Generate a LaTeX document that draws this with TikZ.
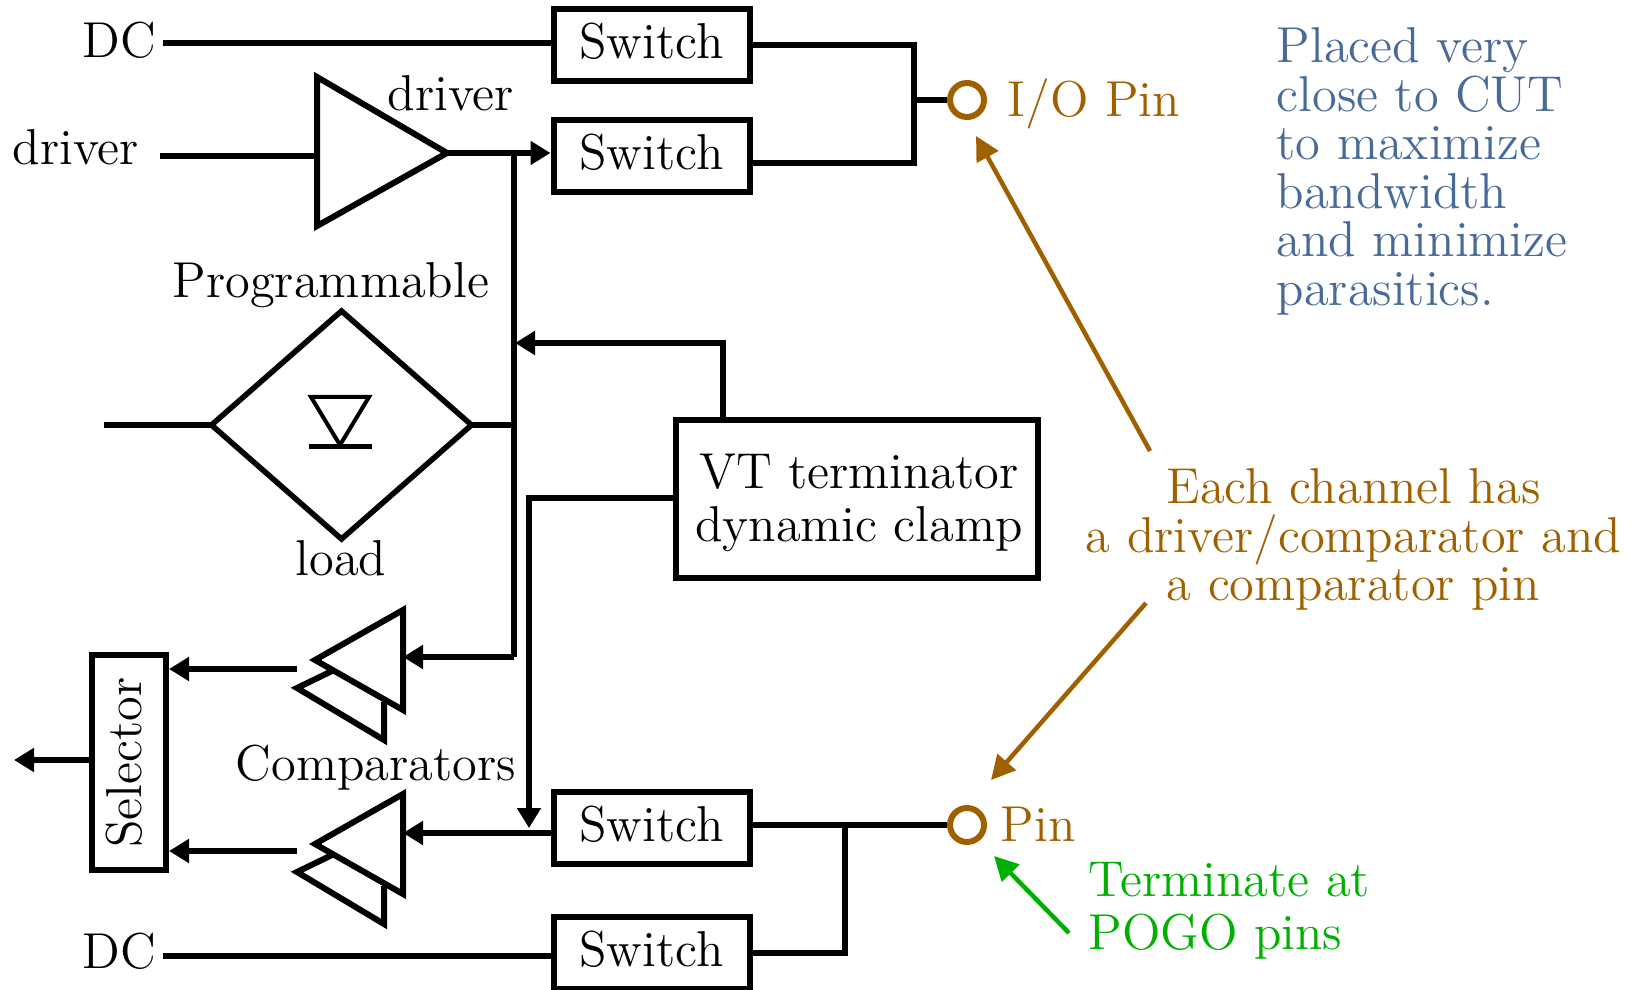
\documentclass[tikz,border=0pt]{standalone}
\usetikzlibrary{arrows.meta,shapes.geometric}
\definecolor{pinbrown}{RGB}{160,96,0}
\definecolor{noteblue}{RGB}{72,106,152}
\definecolor{podgreen}{RGB}{0,176,0}
\newcommand{\labelfont}{\fontsize{14.35}{13.8}\selectfont}
\tikzset{
  every node/.style={font=\labelfont},
  wire/.style={line width=0.6mm},
  head/.style={-{Triangle[length=2mm,width=2.3mm]}},
  bighead/.style={-{Triangle[length=2.4mm,width=2.4mm]}},
  switchbox/.style={draw,line width=0.6mm,minimum width=19.6mm,minimum height=7.2mm,inner sep=0pt,text height=3.3mm,text depth=0.6mm},
  pinring/.style={circle,draw=pinbrown,line width=0.6mm,minimum size=3.4mm,inner sep=0pt},
  txt/.style={inner sep=0pt,anchor=base west},
}
\begin{document}
\begin{tikzpicture}[x=0.1mm,y=-0.1mm]
  \useasboundingbox (0,0) rectangle (1633,990);
  % switches
  \node[switchbox] (swdc) at (651.5,45) {Switch};
  \node[switchbox] (swdrv) at (651.5,156) {Switch};
  \node[switchbox] (swcmp) at (651.5,827.5) {Switch};
  \node[switchbox] (swlow) at (651.5,953) {Switch};
  \node[pinring] (iopin) at (967,100) {};
  \node[pinring] (pin) at (967,825) {};
  % driver
  \draw[wire] (317,77) coordinate (drvtop) -- (447,153) coordinate (drvtip) -- (317,226) -- cycle;
  \node[txt] (drvtext) at (12,165) {driver};
  \node[txt] (drvname) at (387,111) {driver};
  \node[txt] (dctop) at (82,58) {DC};
  \node[txt] (dclow) at (82,968) {DC};
  \coordinate (dctopin) at (163,43);
  \coordinate (dclowin) at (163,956);
  \coordinate (drvin) at (160,156);
  \draw[wire] (dctopin) -- (dctopin -| swdc.west);
  \draw[wire] (dclowin) -- (dclowin -| swlow.west);
  \draw[wire] (drvin) -- (drvin -| drvtop);
  \draw[wire,head] (drvtip) -- (drvtip -| swdrv.west);
  % right side joins
  \coordinate (joinio) at (914,100);
  \coordinate (joinpin) at (845,825);
  \draw[wire] (swdc.east) -| (joinio) |- (swdrv.east |- 0,163);
  \draw[wire] (joinio) -- (iopin.west);
  \draw[wire] (swcmp.east |- pin) -- (pin.west);
  \draw[wire] (joinpin) |- (swlow.east);
  % load
  \node[diamond,draw,line width=0.55mm,outer sep=0pt,shape aspect=1.15,minimum width=26mm,minimum height=22.8mm,inner sep=0pt] (load) at (341.5,425) {};
  \coordinate (loadin) at (104,425);
  \draw[wire] (loadin) -- (load.west);
  \draw[line width=0.4mm] (311,397) coordinate (diodel) -- (369,397) -- (340,445) -- cycle;
  \draw[line width=0.5mm] (309,447) coordinate (diodebar) -- (372,447);
  \node[txt] (progtext) at (172,298) {Programmable};
  \node[txt] (loadtext) at (295,575) {load};
  % bus
  \coordinate (bustop) at (514,153);
  \coordinate (busbot) at (514,657);
  \draw[wire] (load.east) -- (load.east -| bustop);
  \draw[wire] (bustop) -- (busbot);
  % terminator
  \node[draw,line width=0.6mm,minimum width=36.2mm,minimum height=15.8mm,inner sep=0pt] (vtbox) at (857,499) {};
  \node[inner sep=0pt,align=center] (vttext) at (859,503) {VT terminator\\[0.5mm]dynamic clamp};
  \coordinate (vtup) at (723,343);
  \coordinate (vtdown) at (529,498);
  \draw[wire,head] (vtup |- vtbox.north) -- (vtup) -- (515,343);
  \draw[wire,head] (vtbox.west |- vtdown) -- (vtdown) -- (529,828);
  % comparators
  \foreach \off in {0,184}{
    \begin{scope}[yshift=-\off*0.1mm]
      \draw[wire] (332,671) -- (297,688) -- (384,740) -- (384,702);
      \draw[wire] (403,610) -- (315,660) -- (403,710) -- cycle;
    \end{scope}
  }
  \draw[wire,head] (busbot) -- (403,657);
  \draw[wire,head] (swcmp.west |- 0,833) -- (403,833);
  % selector
  \node[draw,line width=0.6mm,rotate=90,minimum width=21.5mm,minimum height=7.4mm,inner sep=0pt,text height=3.5mm,text depth=1.1mm] (selector) at (129,762.5) {Selector};
  \draw[wire,head] (297,669) coordinate (cmpupout) -- (cmpupout -| selector.south);
  \draw[wire,head] (297,851) coordinate (cmplowout) -- (cmplowout -| selector.south);
  \draw[wire,head] (selector.north |- 0,760) -- (14,760);
  \node[txt] (cmptext) at (235,780) {Comparators};
  % pin labels and notes
  \node[txt,text=pinbrown] (iotext) at (1007,117) {I/O Pin};
  \node[txt,text=pinbrown] (pintext) at (1000,841) {Pin};
  \node[inner sep=0pt,anchor=north west,align=left,text=noteblue] (note) at (1276,27) {Placed very\\close to CUT\\to maximize\\bandwidth\\and minimize\\parasitics.};
  \node[inner sep=0pt,anchor=north,align=center,text=pinbrown] (chan) at (1353.5,468) {Each channel has\\a driver/comparator and\\a comparator pin};
  \node[inner sep=0pt,anchor=north west,align=left,text=podgreen] (pogo) at (1088,862) {Terminate at\\[0.4mm]POGO pins};
  \coordinate (chanup) at (1150,451);
  \coordinate (chandown) at (1146,603);
  \coordinate (pogofoot) at (1069,933);
  \draw[line width=0.45mm,pinbrown,bighead] (chanup) -- (976,136) coordinate (iotip);
  \draw[line width=0.45mm,pinbrown,bighead] (chandown) -- (991,780) coordinate (pintip);
  \draw[line width=0.45mm,podgreen,bighead] (pogofoot) -- (994,856) coordinate (pogotip);
\end{tikzpicture}
\end{document}
